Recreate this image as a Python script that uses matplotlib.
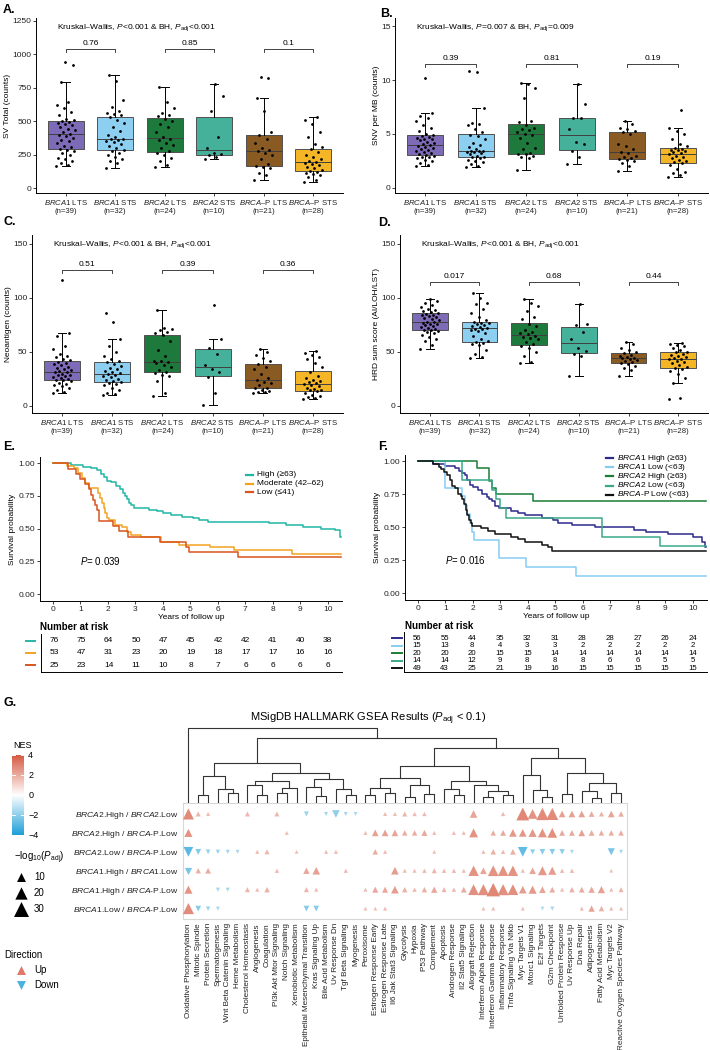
import numpy as np
import matplotlib
matplotlib.use("Agg")
import matplotlib.pyplot as plt
from matplotlib.colors import LinearSegmentedColormap, Normalize

plt.rcParams['font.family'] = ['Liberation Sans', 'DejaVu Sans']
plt.rcParams['mathtext.fontset'] = 'custom'
plt.rcParams['mathtext.rm'] = 'Liberation Sans'
plt.rcParams['mathtext.it'] = 'Liberation Sans:italic'
plt.rcParams['mathtext.bf'] = 'Liberation Sans:bold'
plt.rcParams['axes.linewidth'] = 0.7

W, H = 710, 1050

# ---------------- box plot data (A-D) ----------------
genes = ['BRCA1', 'BRCA1', 'BRCA2', 'BRCA2', 'BRCA', 'BRCA']
gene_suffix = ['', '', '', '', '–P', '–P']
status = ['LTS', 'STS', 'LTS', 'STS', 'LTS', 'STS']
group_n = [39, 32, 24, 10, 21, 28]
group_colors = ['#7d6bb7', '#8dcff0', '#1d7a3c', '#46b19a', '#8a5a23', '#f4b526']

sv_total = [
    [165, 172, 190, 205, 215, 228, 245, 262, 275, 286, 294, 305, 318, 335, 350, 362, 378, 390, 400, 407,
     420, 432, 445, 458, 470, 480, 488, 495, 500, 508, 520, 545, 570, 600, 620, 640, 791, 920, 945],
    [147, 185, 200, 215, 230, 250, 265, 278, 283, 300, 315, 330, 345, 355, 362, 365, 369, 380, 400, 430,
     460, 490, 510, 530, 546, 555, 565, 580, 610, 655, 800, 846],
    [160, 175, 200, 225, 250, 265, 274, 300, 320, 340, 360, 368, 380, 420, 460, 480, 500, 516, 536, 545,
     560, 600, 640, 756],
    [217, 230, 245, 253, 262, 302, 380, 580, 690, 776],
    [57, 100, 110, 150, 160, 167, 180, 220, 250, 265, 275, 285, 300, 340, 370, 397, 420, 580, 671, 820, 830],
    [47, 60, 80, 95, 105, 115, 120, 127, 135, 150, 160, 170, 180, 188, 196, 205, 215, 230, 250, 270,
     290, 306, 330, 380, 420, 480, 510, 534],
]
snv_mb = [
    [2.0, 2.1, 2.3, 2.5, 2.6, 2.75, 2.85, 2.9, 3.0, 3.02, 3.1, 3.2, 3.3, 3.4, 3.5, 3.6, 3.7, 3.8, 3.9, 4.0,
     4.1, 4.2, 4.3, 4.4, 4.5, 4.55, 4.6, 4.7, 4.8, 4.94, 5.0, 5.3, 5.6, 5.8, 6.2, 6.5, 6.7, 6.9, 10.2],
    [1.94, 2.0, 2.2, 2.4, 2.5, 2.6, 2.75, 2.85, 2.89, 3.0, 3.1, 3.2, 3.3, 3.35, 3.4, 3.42, 3.46, 3.6, 3.8, 4.0,
     4.2, 4.5, 4.8, 4.9, 5.2, 5.5, 5.8, 5.9, 6.0, 7.37, 10.7, 10.8],
    [1.69, 2.8, 2.9, 3.0, 3.1, 3.15, 3.2, 3.6, 3.7, 4.2, 4.6, 4.9, 5.04, 5.2, 5.4, 5.5, 5.6, 5.83, 6.1, 6.2,
     8.3, 9.3, 9.6, 9.75],
    [2.19, 2.9, 3.4, 4.04, 4.3, 5.44, 6.5, 6.5, 7.8, 9.6],
    [1.53, 2.0, 2.3, 2.45, 2.6, 2.69, 2.8, 2.9, 3.0, 3.2, 3.34, 3.6, 3.9, 4.1, 5.0, 5.22, 5.3, 5.5, 5.6, 5.9, 6.16],
    [1.03, 1.2, 1.35, 1.5, 1.8, 2.1, 2.28, 2.36, 2.5, 2.6, 2.8, 2.9, 3.0, 3.15, 3.23, 3.3, 3.4, 3.5, 3.55, 3.6,
     3.68, 3.84, 4.1, 4.5, 5.0, 5.3, 5.56, 7.2],
]
neoantigen = [
    [11.7, 13, 15, 17, 18, 19, 20, 21.5, 23, 23.8, 24.2, 25, 26, 27, 28, 28.5, 29, 30, 31, 31.8,
     32.5, 33, 34, 35, 36, 37.5, 39, 40, 41, 42.2, 43, 45, 46, 48, 53, 55, 65, 67, 116],
    [10, 11, 12, 15, 17, 19, 20, 21.5, 22.2, 23, 24, 25, 27, 28, 29, 29.5, 30.5, 31, 32, 34,
     35, 37, 39, 40.4, 41.6, 43, 46, 50, 55, 62, 77.5, 86],
    [9, 12, 23, 28, 29, 30.5, 31.2, 33, 36, 38, 40, 40.5, 41.5, 42, 46, 52, 60, 65.5, 67.5, 68,
     70, 71, 72, 89],
    [1, 12, 27, 31, 34, 38, 48, 54, 62, 93],
    [12, 12.5, 13, 14, 15, 16.4, 17, 19, 21, 22.5, 24, 26, 30, 34, 36, 38.6, 42, 44, 47, 50, 52.5],
    [6, 7, 8, 9, 10, 12, 13.5, 14.4, 15, 16, 17, 18, 19.5, 20, 20.8, 22, 23, 24, 26, 28,
     31.6, 36, 40, 43, 45, 47, 49, 51],
]
hrd_score = [
    [52.5, 56, 60, 62, 64, 66, 67, 68, 69, 70.2, 70.6, 71, 72, 73, 74, 75, 75.5, 76, 77, 77.5,
     78, 79, 80, 81, 82, 83, 84, 84.5, 85.2, 86, 87, 88, 89, 90, 91, 93, 95, 97, 99],
    [44, 45, 48, 52, 56, 57, 58, 59, 59.7, 62, 65, 67, 69, 70, 71, 71.5, 72.5, 73, 74, 75,
     76, 76.5, 77, 77.7, 79, 82, 86, 90, 94, 95, 100, 104],
    [39.5, 41, 46, 50, 54, 55, 57, 59, 62, 63, 64, 65, 66.4, 67, 68, 70, 74, 76, 80, 82,
     88, 92, 95, 98.8],
    [28, 46, 48, 51.2, 54, 62, 68, 74.4, 76, 94.4],
    [28, 33, 35, 37, 38.5, 39.5, 40.5, 41.5, 42.5, 43.5, 44, 44.5, 45.5, 46.5, 47.5, 48.8, 50, 52, 54, 57, 59.5],
    [6, 7, 21, 26, 30, 32, 34.5, 35, 36, 38, 40, 41, 42, 43, 43.4, 44, 45, 46, 47, 48,
     49.5, 50.3, 52, 54, 55, 56, 57, 58.6],
]
pairwise_p = {'sv': ['0.76', '0.85', '0.1'], 'snv': ['0.39', '0.81', '0.19'],
              'neo': ['0.51', '0.39', '0.36'], 'hrd': ['0.017', '0.68', '0.44']}

# ---------------- survival data (E, F) ----------------
years = list(range(11))
e_labels = ['High (≥63)', 'Moderate (42–62)', 'Low (≤41)']
e_colors = ['#22b5a6', '#f2a320', '#d9541e']
high_t = [0, 0.65, 1.1, 1.4, 1.6, 1.75, 1.85, 1.95, 2.1, 2.3, 2.45, 2.55, 2.62, 2.7, 2.78, 2.85, 2.95,
          3.5, 3.8, 4.0, 4.3, 4.7, 5.1, 5.3, 5.65, 7.85, 8.5, 9.1, 9.75, 10.25, 10.45, 10.5]
high_s = [1.0, 0.987, 0.974, 0.961, 0.947, 0.921, 0.895, 0.868, 0.855, 0.829, 0.803, 0.776, 0.75, 0.724,
          0.697, 0.684, 0.658, 0.645, 0.632, 0.618, 0.605, 0.592, 0.579, 0.566, 0.553, 0.540, 0.527,
          0.514, 0.501, 0.487, 0.44, 0.44]
mod_t = [0, 0.5, 0.75, 0.9, 1.05, 1.15, 1.3, 1.65, 1.72, 1.78, 1.85, 1.9, 1.95, 2.05, 2.25, 2.5, 2.7,
         2.85, 3.2, 3.95, 4.6, 5.7, 6.6, 8.7, 10.5]
mod_s = [1, 0.981, 0.962, 0.925, 0.887, 0.849, 0.811, 0.774, 0.736, 0.698, 0.66, 0.623, 0.585, 0.566,
         0.528, 0.509, 0.472, 0.453, 0.434, 0.396, 0.377, 0.358, 0.339, 0.31, 0.31]
low_t = [0, 0.55, 0.85, 1.0, 1.15, 1.3, 1.38, 1.45, 1.52, 1.6, 1.66, 2.2, 2.4, 2.75, 3.9, 4.85, 4.95, 6.75, 10.5]
low_s = [1, 0.96, 0.92, 0.88, 0.84, 0.80, 0.76, 0.72, 0.68, 0.64, 0.56, 0.52, 0.48, 0.44, 0.40, 0.36,
         0.32, 0.28, 0.28]
e_risk_high = [76, 75, 64, 50, 47, 45, 42, 42, 41, 40, 38]
e_risk_mod = [53, 47, 31, 23, 20, 19, 18, 17, 17, 16, 16]
e_risk_low = [25, 23, 14, 11, 10, 8, 7, 6, 6, 6, 6]

f_labels = [r'$\it{BRCA1}$ High (≥63)', r'$\it{BRCA1}$ Low (<63)', r'$\it{BRCA2}$ High (≥63)',
            r'$\it{BRCA2}$ Low (<63)', r'$\it{BRCA}$-P Low (<63)']
f_colors = ['#2e2a8c', '#86cdf3', '#1b7d36', '#3aa98a', '#111111']
b1h_t = [0, 0.55, 1.0, 1.35, 1.5, 1.6, 1.7, 1.8, 1.9, 2.0, 2.2, 2.35, 2.5, 2.6, 2.7, 2.8, 2.95, 3.4, 3.65,
         3.9, 4.5, 4.9, 5.1, 5.6, 6.45, 7.85, 8.3, 9.1, 10.0, 10.35, 10.45, 10.5]
b1h_s = [1, 0.982, 0.964, 0.946, 0.929, 0.911, 0.893, 0.857, 0.821, 0.804, 0.786, 0.75, 0.732, 0.714,
         0.696, 0.661, 0.643, 0.625, 0.607, 0.589, 0.571, 0.553, 0.535, 0.517, 0.499, 0.481, 0.463,
         0.445, 0.427, 0.39, 0.35, 0.35]
b1l_t = [0, 1.0, 1.62, 1.72, 1.8, 1.88, 1.96, 2.05, 2.95, 3.95, 5.75, 10.5]
b1l_s = [1, 0.8, 0.733, 0.667, 0.6, 0.533, 0.467, 0.4, 0.267, 0.2, 0.133, 0.133]
b2h_t = [0, 2.15, 2.6, 2.68, 2.85, 4.2, 10.5]
b2h_s = [1, 0.95, 0.85, 0.80, 0.75, 0.70, 0.70]
b2l_t = [0, 1.6, 2.7, 2.85, 3.0, 3.2, 6.7, 8.8, 10.5]
b2l_s = [1, 0.857, 0.786, 0.714, 0.643, 0.571, 0.429, 0.357, 0.357]
bpl_t = [0, 0.55, 0.75, 0.85, 0.95, 1.05, 1.15, 1.25, 1.35, 1.45, 1.55, 1.62, 1.68, 1.74, 1.8, 1.86,
         1.92, 1.98, 2.3, 2.55, 2.8, 3.4, 3.65, 3.9, 4.5, 4.75, 4.87, 10.5]
bpl_s = [1, 0.98, 0.959, 0.939, 0.918, 0.898, 0.857, 0.816, 0.796, 0.755, 0.735, 0.714, 0.673, 0.633,
         0.592, 0.551, 0.531, 0.51, 0.49, 0.469, 0.449, 0.429, 0.408, 0.388, 0.367, 0.347, 0.32, 0.32]
f_risk_b1h = [56, 55, 44, 35, 32, 31, 28, 28, 27, 26, 24]
f_risk_b1l = [15, 13, 8, 4, 3, 3, 2, 2, 2, 2, 2]
f_risk_b2h = [20, 20, 20, 15, 15, 14, 14, 14, 14, 14, 14]
f_risk_b2l = [14, 14, 12, 9, 8, 8, 8, 6, 6, 5, 5]
f_risk_bpl = [49, 43, 25, 21, 19, 16, 15, 15, 15, 15, 15]

# ---------------- GSEA data (G) ----------------
pathways = ['Oxidative Phosphorylation', 'Mitotic Spindle', 'Protein Secretion', 'Spermatogenesis',
            'Wnt Beta Catenin Signaling', 'Heme Metabolism', 'Cholesterol Homeostasis', 'Angiogenesis',
            'Coagulation', 'Pi3k Akt Mtor Signaling', 'Notch Signaling', 'Xenobiotic Metabolism',
            'Epithelial Mesenchymal Transition', 'Kras Signaling Up', 'Bile Acid Metabolism',
            'Uv Response Dn', 'Tgf Beta Signaling', 'Myogenesis', 'Peroxisome', 'Estrogen Response Early',
            'Estrogen Response Late', 'Il6 Jak Stat3 Signaling', 'Glycolysis', 'Hypoxia', 'P53 Pathway',
            'Complement', 'Apoptosis', 'Androgen Response', 'Il2 Stat5 Signaling', 'Allograft Rejection',
            'Interferon Alpha Response', 'Interferon Gamma Response', 'Inflammatory Response',
            'Tnfa Signaling Via Nfkb', 'Myc Targets V1', 'Mtorc1 Signaling', 'E2f Targets',
            'G2m Checkpoint', 'Unfolded Protein Response', 'Uv Response Up', 'Dna Repair', 'Adipogenesis',
            'Fatty Acid Metabolism', 'Myc Targets V2', 'Reactive Oxygen Species Pathway']
contrasts = [r'$\it{BRCA2}$.High / $\it{BRCA2}$.Low', r'$\it{BRCA2}$.High / $\it{BRCA}$-P.Low',
             r'$\it{BRCA2}$.Low / $\it{BRCA}$-P.Low', r'$\it{BRCA1}$.High / $\it{BRCA1}$.Low',
             r'$\it{BRCA1}$.High / $\it{BRCA}$-P.Low', r'$\it{BRCA1}$.Low / $\it{BRCA}$-P.Low']
# -log10(Padj), 0 = not significant
logp_r1 = [16, 2.4, 1.2, 0, 0, 0, 2.4, 0, 0, 2.4, 0, 0, 2.4, 0, 1.2, 7, 1.2, 1.2, 0, 0, 1.2, 1.2, 2.4,
           1.5, 1.5, 0, 0, 0, 0, 7, 0, 0, 1.5, 0, 22, 12, 20, 19, 5, 5, 5, 3.5, 2.4, 5, 3]
logp_r2 = [8, 0, 0, 0, 0, 0, 0, 0, 0, 0, 1.2, 0, 0, 0, 0, 0, 0, 0, 1.2, 5, 5, 5, 3, 3, 4, 1.2, 0, 1.2,
           1.2, 10, 0, 3, 3.5, 7, 7, 8, 10, 12, 3.5, 3.5, 5, 3.5, 3, 3, 3]
logp_r3 = [12, 3.5, 2, 1.5, 1.2, 1.0, 0, 1.2, 2.4, 0, 0, 1.0, 0, 0, 1.2, 1.2, 0, 0, 0, 3, 1.2, 0, 0, 0,
           0, 1.0, 0, 0, 0, 0, 1.2, 3, 1.5, 3.5, 12, 2.4, 3.5, 3.5, 3, 1.0, 0, 0, 0, 6, 1.0]
logp_r4 = [6, 3, 3.5, 0, 0, 0, 0, 0, 0, 1.5, 0, 0, 4.5, 7, 0, 0, 1.5, 0, 0, 0, 0, 7, 1.2, 1.2, 1.5,
           2.4, 1.5, 1.5, 1.2, 14, 5, 15, 14, 14, 1.2, 5, 10, 8, 1.5, 1.5, 0, 0, 0, 0.8, 0]
logp_r5 = [8, 0, 0, 1.2, 1.2, 0, 2.4, 1.2, 3, 0, 0, 0, 2.4, 1.2, 0, 0, 0, 0, 1.2, 4, 4, 7, 3, 1.5, 3,
           4.5, 2.4, 1.5, 3.5, 15, 16, 24, 16, 15, 7, 8, 5, 3.5, 1.2, 3, 3.5, 4.5, 6, 1.2, 2.4]
logp_r6 = [16, 3.5, 1.5, 1.0, 0, 0, 0, 0, 0, 0, 0, 0, 3.5, 3.5, 0, 0, 0, 0, 1.0, 1.0, 1.2, 0, 0, 0, 0,
           0, 0, 0, 0, 0, 1.0, 1.2, 0, 0, 1.0, 0, 1.0, 1.2, 0, 0, 1.2, 4.5, 3, 1.2, 1.0]
nes_r1 = [2.8, 1.8, 1.6, 0, 0, 0, 1.7, 0, 0, 1.7, 0, 0, -1.8, 0, -1.6, -2.0, -1.6, -1.5, 0, 0, 1.6, 1.6,
          1.8, 1.7, 1.7, 0, 0, 0, 0, 2.2, 0, 0, 1.7, 0, 2.9, 2.6, 2.8, 2.8, 2.3, 2.3, 2.3, 2.0, 1.9, 2.2, 2.0]
nes_r2 = [2.6, 0, 0, 0, 0, 0, 0, 0, 0, 0, 1.5, 0, 0, 0, 0, 0, 0, 0, 1.6, 2.3, 2.3, 2.2, 2.0, 2.0, 2.1,
          1.6, 0, 1.6, 1.6, 2.6, 0, 2.0, 2.1, 2.5, 2.5, 2.5, 2.6, 2.7, 2.1, 2.1, 2.3, 2.0, 2.0, 2.0, 2.0]
nes_r3 = [-2.9, -2.2, -1.9, -1.8, -1.7, -1.6, 0, 1.6, 1.8, 0, 0, 1.5, 0, 0, 1.6, 1.6, 0, 0, 0, 2.0, 1.6,
          0, 0, 0, 0, 1.5, 0, 0, 0, 0, 1.6, 1.9, 1.7, 1.9, -2.8, -2.0, -2.1, -2.1, -2.0, -1.6, 0, 0, 0,
          -2.4, -1.6]
nes_r4 = [-2.4, 1.9, 2.0, 0, 0, 0, 0, 0, 0, 1.6, 0, 0, 2.1, 2.3, 0, 0, 1.6, 0, 0, 0, 0, 2.4, 1.6, 1.6,
          1.7, 1.8, 1.7, 1.7, 1.6, 2.6, 2.2, 2.6, 2.6, 2.6, 1.6, 2.2, 2.5, 2.4, 1.7, 1.7, 0, 0, 0, 1.5, 0]
nes_r5 = [2.6, 0, 0, -1.6, -1.6, 0, 1.8, 1.6, 1.9, 0, 0, 0, 1.8, 1.6, 0, 0, 0, 0, 1.6, 2.1, 2.1, 2.4,
          1.9, 1.7, 1.9, 2.1, 1.8, 1.7, 2.0, 2.7, 2.7, 2.9, 2.7, 2.7, 2.4, 2.5, 2.2, 2.0, 1.6, 1.9, 2.0,
          2.1, 2.3, 1.6, 1.8]
nes_r6 = [2.8, -2.1, -1.8, -1.6, 0, 0, 0, 0, 0, 0, 0, 0, -2.1, -2.1, 0, 0, 0, 0, 1.5, 1.5, 1.6, 0, 0,
          0, 0, 0, 0, 0, 0, 0, 1.5, 1.6, 0, 0, 1.5, 0, -1.5, -1.6, 0, 0, 1.6, 2.2, 1.9, 1.6, 1.5]

# dendrogram over pathway columns: (height, left, right), leaves = column number
tree = (75, 1,
        (65,
         (40,
          (27, (8, 2, 3), (14, 4, (10, 5, 6))),
          (30, (22, (18, 7, (8, 8, 9)), (15, (10, 10, 11), 12)),
           (24, (16, 13, (7, 14, 15)), (14, 16, (8, 17, 18))))),
         (55,
          (37,
           (25, (15, (8, 19, 20), (10, 21, 22)), (18, (6, 23, 24), (9, 25, 26))),
           (22, (14, 27, (8, 28, 29)), (18, 30, (12, (6, 31, 32), (8, 33, 34))))),
          (45,
           (28, 35, (13, 36, (6, 37, 38))),
           (30, (9, 39, 40), (20, (12, 41, (5, 42, 43)), (10, 44, 45)))))))


def rect(l, t, r, b):
    return [l / W, 1 - b / H, (r - l) / W, (b - t) / H]


fig = plt.figure(figsize=(7.1, 10.5), dpi=100)
over = fig.add_axes([0, 0, 1, 1], zorder=5)
over.set_xlim(0, W)
over.set_ylim(H, 0)
over.axis('off')

tick_labels = [r'$\it{%s}$%s %s' % (g, s, st) + '\n(n=%d)' % n
               for g, s, st, n in zip(genes, gene_suffix, status, group_n)]


def box_panel(ax, data, yticks, ylim, ylabel, kw, pv, by):
    pos = np.arange(1, 7)
    bp = ax.boxplot(data, positions=pos, widths=0.72, patch_artist=True, showfliers=False,
                    whis=1.5, capwidths=0.16,
                    boxprops=dict(edgecolor='#505050', linewidth=0.7),
                    medianprops=dict(color='#404040', linewidth=0.7),
                    whiskerprops=dict(color='black', linewidth=0.7),
                    capprops=dict(color='black', linewidth=0.7))
    for patch, c in zip(bp['boxes'], group_colors):
        patch.set_facecolor(c)
    for i, vals in enumerate(data):
        n = len(vals)
        jit = ((np.arange(n) * 0.618034) % 1 - 0.5) * 0.38
        ax.scatter(pos[i] + jit, vals, s=4, color='black', zorder=3, linewidths=0)
    ax.set_xlim(0.4, 6.6)
    ax.set_ylim(*ylim)
    ax.set_yticks(yticks)
    ax.set_xticks(pos)
    ax.set_xticklabels(tick_labels, fontsize=5.6, linespacing=1.15)
    ax.tick_params(axis='y', labelsize=6, length=2, width=0.6, pad=1.2, colors='#222222')
    ax.tick_params(axis='x', length=2, width=0.6, pad=1.5, colors='#222222')
    ax.set_ylabel(ylabel, fontsize=6, labelpad=1)
    for s in ['top', 'right']:
        ax.spines[s].set_visible(False)
    ax.text(0.068, ylim[1] - (ylim[1] - ylim[0]) * 0.055, kw, fontsize=6,
            transform=ax.get_yaxis_transform(), va='center')
    tick = (ylim[1] - ylim[0]) * 0.018
    for k, p in enumerate(pv):
        x0, x1 = 1 + 2 * k, 2 + 2 * k
        ax.plot([x0, x0, x1, x1], [by - tick, by, by, by - tick], color='#222222', lw=0.6)
        ax.text((x0 + x1) / 2, by + tick * 0.6, p, ha='center', va='bottom', fontsize=6)


kw_a = r'Kruskal–Wallis, $\it{P}$<0.001 & BH, $\it{P}_{\rm adj}$<0.001'
kw_b = r'Kruskal–Wallis, $\it{P}$=0.007 & BH, $\it{P}_{\rm adj}$=0.009'

ax_a = fig.add_axes(rect(36, 18, 343, 193))
box_panel(ax_a, sv_total, [0, 250, 500, 750, 1000, 1250], (-37, 1272), 'SV Total (counts)',
          kw_a, pairwise_p['sv'], 1040)
ax_b = fig.add_axes(rect(395, 18, 708, 193))
box_panel(ax_b, snv_mb, [0, 5, 10, 15], (-0.47, 15.75), 'SNV per MB (counts)',
          kw_b, pairwise_p['snv'], 11.5)
ax_c = fig.add_axes(rect(32, 235, 343, 413))
box_panel(ax_c, neoantigen, [0, 50, 100, 150], (-6.5, 158), 'Neoantigen (counts)',
          kw_a, pairwise_p['neo'], 126)
ax_d = fig.add_axes(rect(400, 235, 708, 413))
box_panel(ax_d, hrd_score, [0, 50, 100, 150], (-6.5, 158), 'HRD sum score (AI/LOH/LST)',
          kw_a, pairwise_p['hrd'], 115)


# ---------------- Kaplan-Meier panels ----------------
def km_axes(ax, curves, colors, ptext):
    for (t, s), c in zip(curves, colors):
        ax.step(t, s, where='post', color=c, lw=1.1)
    ax.set_xlim(-0.47, 10.52)
    ax.set_ylim(-0.053, 1.048)
    ax.set_xticks(years)
    ax.set_yticks([0, 0.25, 0.5, 0.75, 1.0])
    ax.set_yticklabels(['0.00', '0.25', '0.50', '0.75', '1.00'])
    ax.tick_params(labelsize=6, length=2, width=0.6, pad=1.5, colors='#222222')
    ax.set_xlabel('Years of follow up', fontsize=6, labelpad=1)
    ax.set_ylabel('Survival probability', fontsize=6, labelpad=2)
    for s in ['top', 'right']:
        ax.spines[s].set_visible(False)
    ax.text(1.0, 0.25, ptext, fontsize=7, va='center')


ax_e = fig.add_axes(rect(40, 457, 342, 601))
km_axes(ax_e, [(high_t, high_s), (mod_t, mod_s), (low_t, low_s)], e_colors, r'$\it{P}$= 0.039')
ax_f = fig.add_axes(rect(405, 455, 707, 600))
km_axes(ax_f, [(b1h_t, b1h_s), (b1l_t, b1l_s), (b2h_t, b2h_s), (b2l_t, b2l_s), (bpl_t, bpl_s)],
        f_colors, r'$\it{P}$= 0.016')

for i, (lab, c) in enumerate(zip(e_labels, e_colors)):
    y = 475 + i * 8.5
    over.plot([246, 253], [y, y], color=c, lw=1.6)
    over.text(257, y, lab, fontsize=6, va='center')
for i, (lab, c) in enumerate(zip(f_labels, f_colors)):
    y = 458 + i * 9.2
    over.plot([606, 613], [y, y], color=c, lw=1.6)
    over.text(617, y, lab, fontsize=6, va='center')


def risk_table(ax, rows, fs):
    for r, vals in enumerate(rows):
        for t, v in zip(years, vals):
            ax.text(t, r + 1, str(v), ha='center', va='center', fontsize=fs)
    ax.set_xlim(-0.47, 10.52)
    ax.set_yticks([])
    ax.set_xticks([])
    for s in ['top', 'right']:
        ax.spines[s].set_visible(False)


ax_et = fig.add_axes(rect(41, 634, 342, 672))
ax_et.set_ylim(3.58, 0.42)
risk_table(ax_et, [e_risk_high, e_risk_mod, e_risk_low], 6)
for i, c in enumerate(e_colors):
    y = 641 + i * 12
    over.plot([26, 35], [y, y], color=c, lw=1.4)
over.text(40, 627, 'Number at risk', fontsize=7, fontweight='bold', va='center')

ax_ft = fig.add_axes(rect(404, 632, 707, 672))
ax_ft.set_ylim(5.53, 0.2)
risk_table(ax_ft, [f_risk_b1h, f_risk_b1l, f_risk_b2h, f_risk_b2l, f_risk_bpl], 5.6)
for i, c in enumerate(f_colors):
    y = 638 + i * 7.5
    over.plot([392, 402], [y, y], color=c, lw=1.4)
over.text(405, 626, 'Number at risk', fontsize=7, fontweight='bold', va='center')

# ---------------- GSEA panel ----------------
cmap = LinearSegmentedColormap.from_list('nes', ['#1f9fd8', '#ffffff', '#d65a42'])
norm = Normalize(-4, 4)


def tri_size(v):
    return 0.72 * np.sqrt(8 + 7.2 * np.asarray(v, dtype=float))


ax_g = fig.add_axes(rect(183, 803, 627, 919))
cols = np.arange(1, len(pathways) + 1)
for r, (lp, ns) in enumerate(zip([logp_r1, logp_r2, logp_r3, logp_r4, logp_r5, logp_r6],
                                 [nes_r1, nes_r2, nes_r3, nes_r4, nes_r5, nes_r6])):
    lp = np.array(lp, dtype=float)
    ns = np.array(ns, dtype=float)
    for sign, mk in [(1, '^'), (-1, 'v')]:
        m = (lp > 0) & (np.sign(ns) == sign)
        ax_g.scatter(cols[m], np.full(m.sum(), r + 1), s=tri_size(lp[m]) ** 2, marker=mk,
                     c=cmap(norm(ns[m])), linewidths=0, zorder=3)
ax_g.set_xlim(0.45, 45.6)
ax_g.set_ylim(6.55, 0.42)
ax_g.set_xticks(cols)
ax_g.set_xticklabels(pathways, rotation=90, fontsize=5.9, color='#222222')
ax_g.set_yticks(range(1, 7))
ax_g.set_yticklabels(contrasts, fontsize=6.1, color='#222222')
ax_g.tick_params(length=0, pad=3)
for s in ax_g.spines.values():
    s.set_color('#d8d8d8')
    s.set_linewidth(0.8)

ax_dend = fig.add_axes(rect(183, 724, 627, 803))
ax_dend.set_xlim(0.45, 45.6)
ax_dend.set_ylim(0, 79)
ax_dend.axis('off')


def draw_tree(node):
    if not isinstance(node, tuple):
        return node, 0.0
    h, left, right = node
    xl, hl = draw_tree(left)
    xr, hr = draw_tree(right)
    ax_dend.plot([xl, xl, xr, xr], [hl, h, h, hr], color='#333333', lw=0.8)
    return (xl + xr) / 2, h


draw_tree(tree)

over.text(368, 719, r'MSigDB HALLMARK GSEA Results ($\it{P}_{\rm adj}$ < 0.1)', fontsize=8,
          ha='center', va='center')

# NES colorbar
cax = fig.add_axes(rect(12, 755, 24, 835))
grad = np.linspace(-4, 4, 200).reshape(-1, 1)
cax.imshow(grad, aspect='auto', cmap=cmap, norm=norm, origin='lower', extent=[0, 1, -4, 4])
for v in [-4, -2, 0, 2, 4]:
    cax.plot([0, 0.22], [v, v], color='white', lw=0.7)
    cax.plot([0.78, 1], [v, v], color='white', lw=0.7)
cax.set_xlim(0, 1)
cax.set_ylim(-4, 4)
cax.set_xticks([])
cax.yaxis.tick_right()
cax.set_yticks([-4, -2, 0, 2, 4])
cax.set_yticklabels(['−4', '−2', '0', '2', '4'], fontsize=6.5)
cax.tick_params(length=0, pad=3)
for s in cax.spines.values():
    s.set_visible(False)
over.text(13, 746, 'NES', fontsize=6.5, va='center')

over.text(14, 858, r'−log$_{10}$($\it{P}_{\rm adj}$)', fontsize=7, va='center')
for i, v in enumerate([10, 20, 30]):
    y = 877 + i * 16
    over.scatter([21], [y], s=tri_size(v) ** 2, marker='^', color='black', linewidths=0)
    over.text(34, y, str(v), fontsize=7, va='center')

over.text(4, 955, 'Direction', fontsize=7, va='center')
over.scatter([21], [970], s=tri_size(10) ** 2, marker='^', color=cmap(norm(3.2)), linewidths=0)
over.text(34, 970, 'Up', fontsize=7, va='center')
over.scatter([21], [985], s=tri_size(10) ** 2, marker='v', color=cmap(norm(-3.2)), linewidths=0)
over.text(34, 985, 'Down', fontsize=7, va='center')

# panel letters
for lab, x, y in [('A.', 3, 10), ('B.', 380, 14), ('C.', 3, 222), ('D.', 378, 223),
                  ('E.', 3, 447), ('F.', 378, 447), ('G.', 3, 703)]:
    over.text(x, y, lab, fontsize=9, fontweight='bold', va='center')

fig.savefig('out.png', dpi=100)
